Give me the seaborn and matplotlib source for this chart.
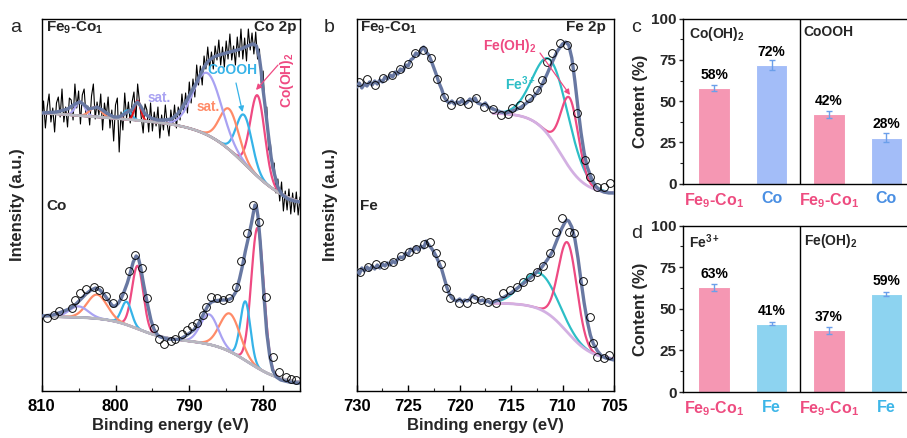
import numpy as np
import pandas as pd
import matplotlib
matplotlib.use("Agg")
import matplotlib.pyplot as plt
from matplotlib.ticker import MultipleLocator
import seaborn as sns

# ---------------------------------------------------------------- data
# Co 2p, Fe9-Co1: raw counts on a uniform energy grid (start, stop, count)
CO_TOP_GRID = (810.0, 775.0, 141)
CO_TOP_RAW = [
    270, 290, 263, 284, 297, 269, 283, 259, 288, 294,
    274, 302, 269, 284, 264, 293, 291, 271, 307, 283,
    300, 267, 296, 302, 275, 285, 266, 295, 307, 272,
    289, 276, 297, 261, 288, 275, 294, 263, 281, 250,
    286, 293, 239, 279, 261, 298, 273, 289, 268, 289,
    299, 270, 307, 289, 273, 258, 287, 281, 259, 288,
    260, 279, 265, 284, 253, 276, 261, 286, 267, 255,
    281, 266, 286, 263, 284, 271, 297, 279, 298, 278,
    309, 288, 312, 294, 326, 306, 325, 306, 335, 322,
    344, 323, 339, 322, 345, 331, 351, 326, 344, 324,
    350, 332, 357, 331, 345, 326, 354, 334, 362, 332,
    353, 330, 362, 341, 358, 337, 359, 332, 342, 308,
    320, 279, 284, 241, 247, 222, 228, 198, 212, 190,
    209, 180, 200, 181, 202, 177, 198, 179, 199, 176,
    194,
]
CO_TOP_ENV_E = [810, 808, 806.5, 805.5, 804.8, 804.2, 803.6, 803, 802.5, 801.8,
                801, 800.2, 799.6, 799, 798.4, 797.8, 797.3, 797.0, 796.6, 796,
                795.2, 794.3, 793.4, 792.4, 791.6, 791, 790.4, 789.8, 789.2, 788.6,
                788, 787.4, 786.7, 786, 785, 784, 783, 782.4, 781.8, 781.3,
                780.9, 780.5, 780.3, 780.1, 779.7, 779.3, 778.9, 778.5, 778, 777.4,
                776.6, 775.8, 775]
CO_TOP_ENV_I = [278, 279, 282, 287, 289, 286, 282, 283, 284, 281,
                277, 274, 274, 276, 279, 281, 287, 289, 285, 277,
                273, 271, 271, 272, 277, 283, 290, 298, 306, 315,
                324, 330, 334, 336, 338, 340, 342, 344, 346, 347,
                345, 333, 322, 307, 283, 257, 233, 218, 204, 196,
                192, 190, 189]
# Shirley-type background: [offset, slope], steps (height, centre, width)
CO_TOP_BG_LEVEL = [184.0, 0.55]
CO_TOP_BG_STEPS = [(75.0, 782.3, 2.8)]
# fitted components: centre (eV), height, FWHM (eV), assignment
CO_TOP_PEAK_E = [780.75, 782.57, 784.6, 787.55, 804.8, 802.7, 798.4, 797.0]
CO_TOP_PEAK_H = [81, 48.5, 40.6, 62, 14, 10, 9, 19.5]
CO_TOP_PEAK_W = [2.3, 2.5, 3.0, 4.5, 1.5, 1.8, 1.3, 1.0]
CO_TOP_PEAK_KIND = ["Co(OH)2", "CoOOH", "sat2", "sat1", "sat1", "sat2", "CoOOH", "Co2p1"]

# Co 2p, Co sample
CO_BOT_PTS_E = [809.3, 808.4, 807.7, 805.9, 805.5, 804.8, 804.0, 802.9, 802.2, 801.3,
                800.3, 799.0, 798.2, 797.3, 796.4, 795.7, 794.8, 794.1, 793.4, 792.5,
                791.9, 791.0, 790.3, 789.6, 788.9, 788.2, 787.8, 787.1, 786.2, 785.5,
                784.6, 783.7, 783.0, 782.2, 781.4, 780.5, 779.6, 778.7, 777.8, 776.9,
                776.2, 775.5]
CO_BOT_PTS_I = [73, 76, 80, 83, 91, 98, 102, 104, 101, 95,
                88, 95, 120, 136, 123, 93, 63, 52, 47, 50,
                52, 57, 61, 65, 68, 76, 84, 94, 93, 91,
                93, 104, 130, 158, 186, 169, 94, 34, 19, 14,
                12, 11]
CO_BOT_ENV_E = [810, 808.5, 807.3, 806.3, 805.5, 804.8, 804, 803.3, 802.7, 802.1,
                801.6, 801, 800.4, 800, 799.6, 799.2, 798.8, 798.4, 798, 797.6,
                797.2, 796.9, 796.6, 796.2, 795.7, 795.2, 794.8, 794.3, 793.9, 793,
                792, 791.2, 790.3, 789.4, 788.7, 788, 787.5, 787, 786.3, 785.5,
                784.8, 784.2, 783.7, 783.2, 782.8, 782.4, 782, 781.6, 781.3, 781.1,
                780.9, 780.7, 780.4, 780.1, 779.8, 779.5, 779.1, 778.7, 778.2, 777.6,
                776.5, 775]
CO_BOT_ENV_I = [75, 76, 79, 82, 86, 91, 97, 101, 103, 101,
                97, 91, 85, 85, 88, 93, 100, 108, 118, 129,
                135, 133, 124, 107, 88, 71, 62, 56, 54, 52,
                51.5, 52, 56, 61, 68, 78, 85, 89, 90.5, 91,
                91, 93, 99, 112, 125, 140, 153, 167, 179, 186,
                184, 175, 150, 118, 87, 58, 35, 21, 14, 11,
                9, 7.7]
CO_BOT_BG_LEVEL = [7.0, 0.1]
CO_BOT_BG_STEPS = [(42.0, 782.0, 2.3), (22.0, 797.0, 2.0)]
CO_BOT_PEAK_E = [780.75, 782.4, 784.5, 787.3, 797.0, 798.5, 802.5, 805.0]
CO_BOT_PEAK_H = [140, 59, 38, 30, 63, 23, 24, 11]
CO_BOT_PEAK_W = [2.0, 1.6, 3.2, 2.8, 1.8, 1.6, 3.2, 3.0]
CO_BOT_PEAK_KIND = ["Co(OH)2", "CoOOH", "sat2", "sat1", "Co(OH)2", "CoOOH", "sat2", "sat1"]

# Fe 2p: measured trace (730 -> 716.75 eV), open-circle points, fitted envelope
FE_TRACE_GRID = (730.0, 716.75, 54)
FE_TOP_TRACE = [304, 308, 303, 307, 305, 309, 306, 310, 307, 311,
                309, 314, 312, 316, 314, 319, 317, 322, 320, 326,
                325, 331, 333, 338, 336, 341, 344, 339, 336, 330,
                323, 316, 308, 302, 294, 290, 288, 290, 287, 289,
                288, 291, 287, 289, 292, 290, 293, 288, 287, 286,
                288, 284, 283, 282]
FE_TOP_PTS_E = [729.8, 729.0, 728.2, 727.4, 726.6, 725.8, 725.0, 724.3, 723.6, 722.8,
                722.2, 721.5, 720.8, 720.0, 719.2, 718.4, 717.6, 716.8, 716.0, 715.3,
                714.9, 714.1, 713.3, 712.5, 712.0, 711.5, 711.05, 710.2, 709.6, 709.0,
                708.6, 707.8, 707.3, 706.7, 706.0, 705.4]
FE_TOP_PTS_I = [309, 312, 306, 313, 316, 322, 327, 338, 341, 333,
                312, 294, 286, 290, 287, 293, 284, 282, 276, 277,
                283, 286, 293, 301, 311, 329, 338, 348, 346, 324,
                278, 231, 214, 204, 204, 208]
FE_TOP_ENV_E = [716.75, 716, 715.5, 715, 714.5, 714, 713.5, 713, 712.5, 712,
                711.5, 711, 710.5, 710, 709.7, 709.4, 709.1, 708.8, 708.5, 708.2,
                707.9, 707.6, 707.2, 706.8, 706.4, 706, 705.5, 705]
FE_TOP_ENV_I = [282, 279, 278, 279.5, 281.5, 284, 288, 292, 298, 306,
                317, 329, 340, 347, 349, 346, 333, 310, 283, 258,
                238, 224, 213, 205, 201, 199, 198, 198]
FE_TOP_BG_LEVEL = [197.0, 0.0]
FE_TOP_BG_STEPS = [(81.0, 710.2, 1.2)]
FE_TOP_PEAK_E = [711.05, 709.3]
FE_TOP_PEAK_H = [78, 70]
FE_TOP_PEAK_W = [4.0, 2.0]
FE_TOP_PEAK_KIND = ["Fe3+", "Fe(OH)2"]

FE_BOT_TRACE = [121, 117, 123, 120, 124, 121, 125, 122, 126, 123,
                127, 125, 128, 126, 130, 128, 132, 134, 133, 138,
                136, 142, 140, 144, 141, 145, 143, 150, 146, 143,
                139, 134, 128, 122, 113, 104, 97, 93, 91, 90,
                92, 89, 91, 90, 92, 96, 93, 92, 90, 91,
                89, 90, 88, 89]
FE_BOT_PTS_E = [729.7, 728.9, 728.1, 727.3, 726.5, 725.7, 724.9, 724.2, 723.5, 722.9,
                722.3, 721.8, 721.3, 720.9, 720.1, 719.3, 718.6, 717.9, 717.2, 716.5,
                715.75, 715.1, 714.45, 713.8, 713.2, 712.5, 711.9, 711.2, 710.6, 710.1,
                709.4, 708.9, 708.0, 707.3, 707.0, 706.7, 706.0, 705.5]
FE_BOT_PTS_I = [119, 124, 127, 126, 129, 135, 139, 142, 147, 149,
                138, 127, 103, 93, 88, 88, 92, 91, 89, 88,
                98, 101, 104, 109, 114, 119, 125, 138, 159, 173,
                159, 158, 110, 74, 48, 34, 33, 36]
FE_BOT_ENV_E = [716.75, 716, 715.5, 715, 714.5, 714, 713.5, 713, 712.5, 712,
                711.5, 711, 710.5, 710.1, 709.8, 709.6, 709.4, 709.1, 708.8, 708.5,
                708.2, 707.9, 707.6, 707.3, 707, 706.6, 706.2, 705.8, 705.4, 705]
FE_BOT_ENV_I = [89, 92, 95, 98, 102, 106, 110, 114, 119, 124,
                131, 139, 152, 162, 168, 171, 170, 164, 152, 133,
                110, 88, 70, 56, 47, 40, 35, 33, 32, 31]
FE_BOT_BG_LEVEL = [31.0, 0.0]
FE_BOT_BG_STEPS = [(57.0, 709.6, 1.25)]
FE_BOT_PEAK_E = [712.2, 709.5]
FE_BOT_PEAK_H = [36, 90]
FE_BOT_PEAK_W = [4.0, 2.1]
FE_BOT_PEAK_KIND = ["Fe3+", "Fe(OH)2"]
FE_FIT_WINDOW = (716.75, 705.0)

# Phase contents (%) with error bars
C_GROUPS = ["Co(OH)$_2$", "CoOOH"]
C_SAMPLES = ["Fe$_9$-Co$_1$", "Co", "Fe$_9$-Co$_1$", "Co"]
C_VALUES = [58, 72, 42, 28]
C_ERRORS = [2.0, 3.0, 2.0, 3.0]
D_GROUPS = ["Fe$^{3+}$", "Fe(OH)$_2$"]
D_SAMPLES = ["Fe$_9$-Co$_1$", "Fe", "Fe$_9$-Co$_1$", "Fe"]
D_VALUES = [63, 41, 37, 59]
D_ERRORS = [2.0, 1.0, 2.0, 1.0]

# ---------------------------------------------------------------- style
sns.set_theme(style="ticks")
plt.rcParams["font.family"] = ["Liberation Sans", "DejaVu Sans"]
plt.rcParams["mathtext.fontset"] = "custom"
plt.rcParams["mathtext.rm"] = "Liberation Sans:bold"
plt.rcParams["mathtext.bf"] = "Liberation Sans:bold"
plt.rcParams["mathtext.it"] = "Liberation Sans:bold"
plt.rcParams["mathtext.default"] = "bf"

SLATE = "#6878A2"
GRAY = "#B8B8C0"
KIND_COLOR = {
    "Co(OH)2": "#EF4A82", "CoOOH": "#36B3E8", "sat2": "#FF8B68",
    "sat1": "#A9A2F2", "Co2p1": "#E8151C",
    "Fe3+": "#2DBEC6", "Fe(OH)2": "#EE4A82",
}
FE_BG = "#D3B0E2"
PINK_BAR, PINK_TXT = "#F597B3", "#EE4C80"
SAMPLE_STYLE = {
    "c": ("#A3BDF8", "#4A8FE3"),
    "d": ("#8DD3F0", "#3DB6E8"),
}
ERR_C = "#6B9FEA"

W, H = 907, 438
fig = plt.figure(figsize=(W / 100, H / 100), dpi=100)


def frac(x, y):
    return x / W, 1 - y / H


def add_axes_px(x0, y0, x1, y1):
    return fig.add_axes([x0 / W, 1 - y1 / H, (x1 - x0) / W, (y1 - y0) / H])


def background(E, level, steps, e_ref):
    out = level[0] + level[1] * (E - e_ref)
    for h, c, w in steps:
        out = out + h / (1.0 + np.exp(-(E - c) / w))
    return out


def gauss(E, c, h, fwhm):
    return h * np.exp(-4.0 * np.log(2.0) * (E - c) ** 2 / fwhm ** 2)


def line(ax, x, y, color, lw, z, **kw):
    sns.lineplot(x=np.asarray(x, float), y=np.asarray(y, float), ax=ax,
                 color=color, linewidth=lw, sort=False, estimator=None,
                 zorder=z, **kw)


def circles(ax, x, y):
    sns.lineplot(x=np.asarray(x, float), y=np.asarray(y, float), ax=ax,
                 sort=False, estimator=None, linestyle="", marker="o",
                 markersize=5.6, markerfacecolor="none",
                 markeredgecolor="black", markeredgewidth=0.65, zorder=3.5)


def draw_fit(ax, E, bg, cen, hgt, fwhm, kinds, bg_color):
    for c, h, w, k in zip(cen, hgt, fwhm, kinds):
        line(ax, E, bg + gauss(E, c, h, w), KIND_COLOR[k], 1.6, 2)
    line(ax, E, bg, bg_color, 2.0, 2.5)


def style_xps(ax, xlim, major, minor):
    ax.set_xlim(*xlim)
    ax.set_ylim(0, 372)
    ax.set_yticks([])
    ax.xaxis.set_major_locator(MultipleLocator(major))
    ax.xaxis.set_minor_locator(MultipleLocator(minor))
    ax.tick_params(axis="x", which="major", direction="in", length=4,
                   width=1.0, labelsize=12, pad=6, colors="black")
    ax.tick_params(axis="x", which="minor", direction="in", length=2.5, width=0.8)
    for lbl in ax.get_xticklabels():
        lbl.set_fontweight("bold")
    for s in ax.spines.values():
        s.set_linewidth(1.0)
        s.set_color("black")
    ax.set_xlabel("Binding energy (eV)", fontsize=12, fontweight="bold")
    ax.set_ylabel("Intensity (a.u.)", fontsize=12, fontweight="bold")
    ax.xaxis.set_label_coords(0.5, -0.072)


# ---------------------------------------------------------------- (a) Co 2p
axA = add_axes_px(41.7, 19, 300, 391)
Eg = np.linspace(810, 775, 800)
e_raw = np.linspace(*CO_TOP_GRID)
line(axA, e_raw, CO_TOP_RAW, "black", 0.8, 1)
bg_t = background(Eg, CO_TOP_BG_LEVEL, CO_TOP_BG_STEPS, 775.0)
draw_fit(axA, Eg, bg_t, CO_TOP_PEAK_E, CO_TOP_PEAK_H, CO_TOP_PEAK_W,
         CO_TOP_PEAK_KIND, GRAY)
line(axA, CO_TOP_ENV_E, CO_TOP_ENV_I, SLATE, 2.4, 3)

bg_b = background(Eg, CO_BOT_BG_LEVEL, CO_BOT_BG_STEPS, 775.0)
draw_fit(axA, Eg, bg_b, CO_BOT_PEAK_E, CO_BOT_PEAK_H, CO_BOT_PEAK_W,
         CO_BOT_PEAK_KIND, GRAY)
circles(axA, CO_BOT_PTS_E, CO_BOT_PTS_I)
line(axA, CO_BOT_ENV_E, CO_BOT_ENV_I, SLATE, 2.4, 3)
style_xps(axA, (810, 775), 10, 5)
axA.yaxis.set_label_coords(-0.065, 0.5)

# ---------------------------------------------------------------- (b) Fe 2p
axB = add_axes_px(356.7, 19, 614, 391)
Ef = np.linspace(*FE_FIT_WINDOW, 400)
e_tr = np.linspace(*FE_TRACE_GRID)
for trace, env_e, env_i, pe, ph, pw, pk, lvl, stp, pe_x, pi_y in [
    (FE_TOP_TRACE, FE_TOP_ENV_E, FE_TOP_ENV_I, FE_TOP_PEAK_E, FE_TOP_PEAK_H,
     FE_TOP_PEAK_W, FE_TOP_PEAK_KIND, FE_TOP_BG_LEVEL, FE_TOP_BG_STEPS,
     FE_TOP_PTS_E, FE_TOP_PTS_I),
    (FE_BOT_TRACE, FE_BOT_ENV_E, FE_BOT_ENV_I, FE_BOT_PEAK_E, FE_BOT_PEAK_H,
     FE_BOT_PEAK_W, FE_BOT_PEAK_KIND, FE_BOT_BG_LEVEL, FE_BOT_BG_STEPS,
     FE_BOT_PTS_E, FE_BOT_PTS_I),
]:
    bg = background(Ef, lvl, stp, 705.0)
    draw_fit(axB, Ef, bg, pe, ph, pw, pk, FE_BG)
    circles(axB, pe_x, pi_y)
    line(axB, e_tr, trace, SLATE, 2.4, 3)
    line(axB, env_e, env_i, SLATE, 2.4, 3)
style_xps(axB, (730, 705), 5, 2.5)
axB.yaxis.set_label_coords(-0.073, 0.5)

# ---------------------------------------------------------------- (c)/(d) bars
def bar_panel(ax, groups, samples, values, errors, key):
    other_bar, other_txt = SAMPLE_STYLE[key]
    keys = [f"{g}|{s}" for g in groups for s in samples[:2]]
    bar_cols = [PINK_BAR, other_bar, PINK_BAR, other_bar]
    df = pd.DataFrame({"key": keys, "value": values})
    sns.barplot(data=df, x="key", y="value", hue="key", order=keys,
                hue_order=keys, palette=dict(zip(keys, bar_cols)),
                width=0.55, legend=False, ax=ax, errorbar=None,
                edgecolor="white", linewidth=0.8, saturation=1)
    ax.errorbar(range(4), values, yerr=errors, fmt="none", ecolor=ERR_C,
                elinewidth=1.0, capsize=2.5, capthick=1.0, zorder=4)
    for i, v in enumerate(values):
        ax.text(i, v + 8, f"{v}%", ha="center", va="center",
                fontsize=10, fontweight="bold", color="black")
    ax.axvline(1.5, color="black", lw=1.0)
    ax.text(-0.44, 96, groups[0], ha="left", va="top", fontsize=10,
            fontweight="bold")
    ax.text(1.56, 96, groups[1], ha="left", va="top", fontsize=10,
            fontweight="bold")
    ax.set_xlim(-0.55, 3.36)
    ax.set_ylim(0, 100)
    ax.yaxis.set_major_locator(MultipleLocator(25))
    ax.yaxis.set_minor_locator(MultipleLocator(12.5))
    ax.tick_params(axis="y", which="major", direction="out", length=3,
                   width=1.0, labelsize=11, pad=1.5)
    ax.tick_params(axis="y", which="minor", direction="out", length=2, width=0.8)
    ax.tick_params(axis="x", length=0, pad=5.5, labelsize=11.5)
    ax.set_xticks(range(4))
    ax.set_xticklabels(samples)
    for lbl, col in zip(ax.get_xticklabels(),
                        [PINK_TXT, other_txt, PINK_TXT, other_txt]):
        lbl.set_color(col)
        lbl.set_fontweight("bold")
    for lbl in ax.get_yticklabels():
        lbl.set_fontweight("bold")
    ax.spines["right"].set_visible(False)
    for s in ("left", "bottom", "top"):
        ax.spines[s].set_linewidth(1.0)
        ax.spines[s].set_color("black")
    ax.set_xlabel("")
    ax.set_ylabel("Content (%)", fontsize=12, fontweight="bold")
    ax.yaxis.set_label_coords(-0.155, 0.5)


axC = add_axes_px(682.7, 18.7, 907, 183.7)
bar_panel(axC, C_GROUPS, C_SAMPLES, C_VALUES, C_ERRORS, "c")
axD = add_axes_px(682.7, 225.7, 907, 392)
bar_panel(axD, D_GROUPS, D_SAMPLES, D_VALUES, D_ERRORS, "d")

# ---------------------------------------------------------------- annotations
def ftext(x, y, s, **kw):
    fig.text(*frac(x, y), s, **kw)


def arrow(x0, y0, x1, y1, color):
    fig.add_artist(matplotlib.patches.FancyArrowPatch(
        frac(x0, y0), frac(x1, y1), transform=fig.transFigure,
        arrowstyle="-|>", mutation_scale=8, color=color, lw=0.9,
        shrinkA=0, shrinkB=0, zorder=6))


for letter, x, y in [("a", 16, 27), ("b", 329, 27), ("c", 636, 28), ("d", 637, 234)]:
    ftext(x, y, letter, fontsize=14, ha="center", va="center")

bold = dict(fontweight="bold", fontsize=11)
ftext(46, 20, "Fe$_9$-Co$_1$", ha="left", va="top", **bold)
ftext(296, 20, "Co 2p", ha="right", va="top", **bold)
ftext(46, 199, "Co", ha="left", va="top", **bold)
ftext(148, 91, "sat.", ha="left", va="top", fontsize=9.8, fontweight="bold",
      color=KIND_COLOR["sat1"])
ftext(197, 100, "sat.", ha="left", va="top", fontsize=9.8, fontweight="bold",
      color=KIND_COLOR["sat2"])
ftext(207, 63, "CoOOH", ha="left", va="top", fontsize=10, fontweight="bold",
      color=KIND_COLOR["CoOOH"])
ftext(287, 80, "Co(OH)$_2$", ha="center", va="center", rotation=90,
      fontsize=10, fontweight="bold", color=KIND_COLOR["Co(OH)2"])
arrow(236, 83, 242.5, 112, KIND_COLOR["CoOOH"])
arrow(278, 65, 256, 90, KIND_COLOR["Co(OH)2"])

ftext(360, 20, "Fe$_9$-Co$_1$", ha="left", va="top", **bold)
ftext(606, 20, "Fe 2p", ha="right", va="top", **bold)
ftext(360, 199, "Fe", ha="left", va="top", **bold)
ftext(483, 37, "Fe(OH)$_2$", ha="left", va="top", fontsize=10,
      fontweight="bold", color=KIND_COLOR["Fe(OH)2"])
ftext(505, 74, "Fe$^{3+}$", ha="left", va="top", fontsize=10,
      fontweight="bold", color=KIND_COLOR["Fe3+"])
arrow(540, 53, 570, 95, KIND_COLOR["Fe(OH)2"])

fig.savefig("out.png", dpi=100)
